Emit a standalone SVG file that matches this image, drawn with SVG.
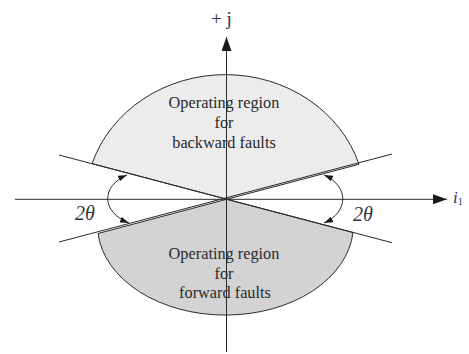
<svg xmlns="http://www.w3.org/2000/svg" width="469" height="354" viewBox="0 0 469 354">
<style>
.region{stroke:#2b2b2b;stroke-width:1;stroke-linejoin:round}
.ln{stroke:#2b2b2b;stroke-width:1;fill:none}
.lbl{font-family:"Liberation Serif","DejaVu Serif",serif;font-size:16.3px;fill:#2a2a2a;text-anchor:middle}
.math{font-family:"Liberation Serif","DejaVu Serif",serif;fill:#2f3347}
</style>
<defs>
<marker id="axisHead" viewBox="0 0 14 10" refX="14" refY="5" markerWidth="14" markerHeight="10" markerUnits="userSpaceOnUse" orient="auto">
<path d="M0,0 L14,5 L0,10 Z" fill="#1a1a1a"/>
</marker>
<marker id="smallHead" viewBox="0 0 9 6" refX="9" refY="3" markerWidth="9" markerHeight="6" markerUnits="userSpaceOnUse" orient="auto-start-reverse">
<path d="M0,0 L9,3 L0,6 Z" fill="#1a1a1a"/>
</marker>
</defs>
<rect width="469" height="354" fill="#ffffff"/>
<g id="upper-region">
<path class="region" fill="#ececec" d="M92.1,163.6 A140 128 0 0 1 359,164.3 L226.5,199.3 Z"/>
<text class="lbl" x="224" y="108">Operating region</text>
<text class="lbl" x="224" y="128">for</text>
<text class="lbl" x="224" y="148">backward faults</text>
</g>
<g id="lower-region">
<path class="region" fill="#d3d3d3" d="M98,233.5 A128 90 0 0 0 353,232.5 L226.5,199.3 Z"/>
<text class="lbl" x="224" y="259">Operating region</text>
<text class="lbl" x="224" y="279">for</text>
<text class="lbl" x="225" y="298">forward faults</text>
</g>
<g id="connectors">
<line class="ln" x1="15" y1="199.3" x2="447" y2="199.3" marker-end="url(#axisHead)"/>
<line class="ln" x1="226.5" y1="352" x2="226.5" y2="37" marker-end="url(#axisHead)"/>
<line class="ln" x1="59" y1="155" x2="392" y2="242.7"/>
<line class="ln" x1="59" y1="242" x2="392" y2="154"/>
<path class="ln" d="M127,175 C101,186 101,212 129,223" marker-start="url(#smallHead)" marker-end="url(#smallHead)"/>
<path class="ln" d="M324,175 C349,186 349,212 324,223" marker-start="url(#smallHead)" marker-end="url(#smallHead)"/>
</g>
<g id="labels">
<text class="math" x="211" y="25" font-size="19">+ j</text>
<text class="math" x="453" y="203" font-size="17" font-style="italic">i<tspan font-size="10" font-style="normal" dy="2">1</tspan></text>
<text class="math" x="75" y="220" font-size="20" font-style="italic">2θ</text>
<text class="math" x="353" y="221" font-size="20" font-style="italic">2θ</text>
</g>
</svg>
